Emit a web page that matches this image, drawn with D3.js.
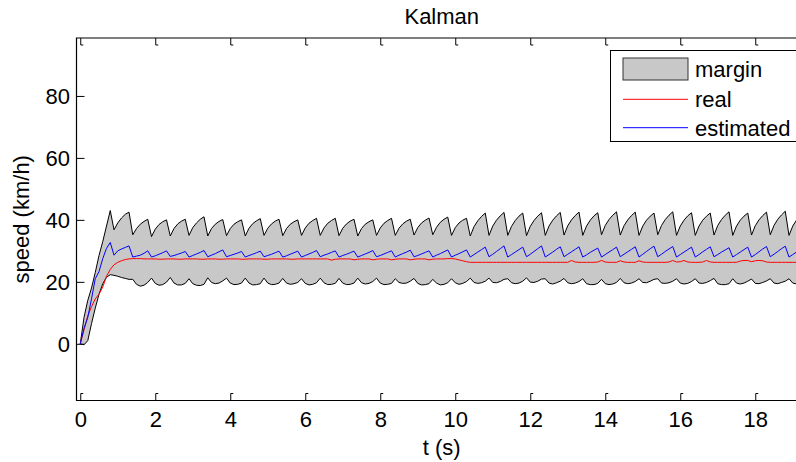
<!DOCTYPE html>
<html>
<head>
<meta charset="utf-8">
<script src="https://cdn.jsdelivr.net/npm/d3@7"></script>
<style>
  body { margin: 0; background: #fff; }
  svg { display: block; font-family: "Liberation Sans", Arial, sans-serif; }
</style>
</head>
<body>
<script>
// Samples every 0.1 s, from t = 0
const timeStep = 0.1;

// upper edge of the margin band (km/h)
const upperMargin = [
  0, 8.5, 14, 18, 23, 28.5, 33, 38, 43,
  36.8, 39, 40.6, 41.8, 42.5,
  35.2, 37.2, 38.6, 39.5, 40.2,
  34.6, 37.0, 38.5, 39.4, 40.0,
  34.8, 37.2, 38.7, 39.6, 40.2,
  35.0, 37.5, 39.0, 40.2, 41.0,
  34.8, 37.2, 38.6, 39.5, 40.1,
  34.9, 37.2, 38.6, 39.4, 40.0,
  34.8, 37.3, 38.8, 39.7, 40.4,
  35.0, 37.3, 38.7, 39.6, 40.2,
  34.9, 37.2, 38.6, 39.4, 40.0,
  35.0, 37.4, 38.9, 39.8, 40.5,
  35.0, 37.4, 38.9, 39.8, 40.5,
  34.9, 37.3, 38.7, 39.6, 40.2,
  34.8, 37.2, 38.6, 39.4, 40.0,
  35.0, 37.4, 38.9, 39.8, 40.5,
  35.0, 37.3, 38.7, 39.6, 40.2,
  35.1, 37.5, 39.0, 39.9, 40.6,
  35.2, 37.6, 39.2, 40.2, 40.9,
  35.0, 37.5, 39.0, 39.9, 40.5,
  34.8, 37.8, 39.7, 41.1, 42.2,
  35.0, 38.0, 39.9, 41.3, 42.4,
  35.0, 37.9, 39.8, 41.2, 42.2,
  34.9, 37.9, 39.8, 41.2, 42.3,
  35.0, 38.0, 39.9, 41.3, 42.4,
  35.1, 38.1, 40.0, 41.4, 42.5,
  35.0, 38.0, 39.9, 41.3, 42.3,
  35.2, 38.2, 40.1, 41.5, 42.6,
  35.1, 38.1, 40.0, 41.4, 42.5,
  35.0, 38.0, 39.9, 41.2, 42.2,
  35.2, 38.2, 40.1, 41.5, 42.6,
  35.0, 38.0, 39.9, 41.3, 42.3,
  35.0, 38.0, 39.9, 41.2, 42.2,
  35.1, 38.2, 40.1, 41.5, 42.6,
  35.0, 38.0, 39.9, 41.2, 42.2,
  35.1, 38.1, 40.0, 41.4, 42.5,
  35.2, 38.2, 40.2, 41.6, 42.8,
  35.0, 38.0, 39.9, 41.3
];

// lower edge of the margin band (km/h)
const lowerMargin = [
  0, -0.3, 1, 6.5, 11.5, 16, 19.4, 21.5, 22.3,
  22.1, 21.8, 21.4, 21.1, 20.8,
  20.8, 19.2, 18.6, 18.9, 19.8,
  21.2, 19.5, 18.9, 19.1, 19.9,
  21.4, 19.6, 19.0, 19.0, 19.5,
  21.0, 19.4, 18.9, 18.8, 19.2,
  21.3, 19.8, 19.4, 19.6, 20.3,
  21.2, 19.6, 19.1, 19.2, 19.6,
  21.2, 19.6, 19.0, 19.1, 19.4,
  21.2, 19.6, 19.1, 19.2, 19.6,
  21.1, 19.6, 19.2, 19.4, 19.8,
  21.0, 19.5, 19.0, 19.2, 19.7,
  21.2, 19.7, 19.1, 19.2, 19.5,
  21.1, 19.6, 19.1, 19.2, 19.6,
  21.2, 19.7, 19.3, 19.5, 20.1,
  21.2, 19.6, 19.1, 19.2, 19.5,
  21.0, 19.8, 19.5, 19.6, 20.2,
  21.1, 19.5, 19.0, 19.1, 19.4,
  20.8, 19.6, 19.0, 19.2, 19.7,
  21.0, 19.7, 19.2, 19.5, 20.1,
  21.2, 19.8, 19.5, 19.7, 20.2,
  21.2, 19.8, 19.7, 20.1, 20.8,
  21.0, 19.7, 19.4, 19.6, 20.2,
  21.3, 19.9, 19.8, 20.2, 20.9,
  21.0, 19.6, 19.3, 19.7, 20.2,
  21.1, 19.7, 19.4, 19.6, 20.1,
  21.0, 19.4, 19.1, 19.1, 19.5,
  20.8, 19.4, 19.1, 19.3, 19.8,
  21.1, 19.7, 19.4, 19.6, 20.1,
  21.0, 19.8, 19.7, 20.2, 20.8,
  21.0, 19.6, 19.5, 19.7, 20.2,
  21.0, 19.6, 19.3, 19.5, 20.1,
  21.0, 19.6, 19.5, 19.8, 20.4,
  21.1, 19.4, 19.1, 19.1, 19.4,
  21.0, 19.6, 19.3, 19.6, 20.2,
  20.9, 19.5, 19.4, 19.8, 20.3,
  21.0, 19.6, 19.4, 19.8, 20.2,
  21.0, 19.6, 19.3, 19.5
];

// real speed (km/h)
const realSpeed = [
  0, 4.5, 9, 12, 14.5, 16, 18.3, 21.8, 24, 25.5,
  26.3, 26.8, 27.2, 27.4, 27.5, 27.5, 27.5, 27.4, 27.4, 27.4,
  27.4, 27.3, 27.3, 27.4, 27.4, 27.4, 27.3, 27.3, 27.4, 27.4,
  27.4, 27.4, 27.3, 27.3, 27.4, 27.4, 27.4, 27.3, 27.3, 27.4,
  27.4, 27.4, 27.4, 27.3, 27.3, 27.4, 27.4, 27.4, 27.4, 27.3,
  27.3, 27.4, 27.4, 27.4, 27.4, 27.4, 27.3, 27.3, 27.4, 27.4,
  27.4, 27.4, 27.4, 27.4, 27.4, 27.4, 27.4, 27.0, 27.3, 27.4,
  27.4, 27.4, 27.4, 27.1, 27.3, 27.4, 27.4, 27.4, 27.1, 27.3,
  27.4, 27.4, 27.4, 27.1, 27.3, 27.4, 27.4, 27.4, 27.1, 27.3,
  27.4, 27.4, 27.4, 27.1, 27.3, 27.4, 27.4, 27.4, 27.5, 27.5,
  27.4, 27.1, 26.8, 26.5, 26.3, 26.3, 26.3, 26.3, 26.3, 26.3,
  26.3, 26.3, 26.3, 26.3, 26.3, 26.3, 26.3, 26.3, 26.3, 26.3,
  26.3, 26.3, 26.3, 26.3, 26.3, 26.3, 26.3, 26.3, 26.3, 26.3,
  26.3, 26.9, 26.4, 26.3, 26.3, 26.3, 26.3, 26.3, 26.4, 26.9,
  26.4, 26.3, 26.3, 26.3, 26.8, 26.4, 26.3, 26.3, 26.3, 26.8,
  26.4, 26.3, 26.3, 26.3, 26.3, 26.3, 26.3, 26.4, 26.9, 26.4,
  26.5, 26.9, 26.4, 26.3, 26.3, 26.3, 26.4, 26.9, 26.4, 26.3,
  26.3, 26.3, 26.3, 26.3, 26.3, 26.3, 26.7, 26.9, 26.9, 26.5,
  26.8, 26.9, 26.8, 26.4, 26.3, 26.3, 26.3, 26.3, 26.3, 26.3,
  26.3, 26.3, 26.3
];

// Kalman estimate (km/h)
const estimatedSpeed = [
  0, 5, 8.5, 14.5, 21, 23.3, 27.5, 30.8, 32.7,
  28.6, 30.0, 30.6, 31.1, 31.6,
  28.0, 28.3, 28.6, 29.2, 30.0,
  28.0, 28.4, 28.9, 29.4, 30.0,
  28.2, 28.5, 28.9, 29.3, 29.8,
  28.0, 28.5, 29.0, 29.5, 30.1,
  28.1, 28.6, 29.1, 29.7, 30.3,
  28.1, 28.5, 28.9, 29.3, 29.8,
  28.0, 28.5, 28.9, 29.4, 29.9,
  28.1, 28.5, 28.9, 29.4, 29.9,
  28.0, 28.4, 28.9, 29.4, 29.9,
  28.0, 28.5, 29.0, 29.5, 30.1,
  28.1, 28.6, 29.0, 29.5, 30.0,
  28.0, 28.5, 28.9, 29.4, 29.9,
  28.0, 28.5, 29.0, 29.5, 30.1,
  28.1, 28.5, 29.0, 29.5, 30.0,
  28.0, 28.6, 29.1, 29.6, 30.2,
  28.1, 28.5, 29.0, 29.5, 30.0,
  28.0, 28.6, 29.1, 29.7, 30.3,
  28.0, 28.6, 29.1, 29.7, 30.3,
  28.0, 28.8, 29.6, 30.4, 31.2,
  28.1, 28.9, 29.8, 30.7, 31.6,
  28.0, 28.8, 29.6, 30.4, 31.2,
  28.1, 28.9, 29.8, 30.7, 31.6,
  28.0, 28.8, 29.6, 30.5, 31.3,
  28.1, 28.9, 29.7, 30.5, 31.3,
  28.0, 28.7, 29.5, 30.2, 30.9,
  28.0, 28.8, 29.6, 30.4, 31.2,
  28.1, 28.9, 29.7, 30.5, 31.3,
  28.0, 28.9, 29.8, 30.7, 31.5,
  28.1, 28.9, 29.8, 30.6, 31.4,
  28.0, 28.8, 29.6, 30.4, 31.2,
  28.0, 28.8, 29.7, 30.5, 31.3,
  28.1, 28.8, 29.6, 30.3, 31.0,
  28.0, 28.8, 29.6, 30.4, 31.2,
  28.0, 28.8, 29.7, 30.6, 31.4,
  28.1, 28.9, 29.8, 30.7, 31.5,
  28.0, 28.8, 29.6, 30.4
];

const xTicks = [0, 2, 4, 6, 8, 10, 12, 14, 16, 18];
const yTicks = [0, 20, 40, 60, 80];
const legendLabels = ["margin", "real", "estimated"];

const width = 796;
const height = 462;
const fontSize = 22;
const box = { left: 76.5, top: 38, right: 807, bottom: 400.5 };
const bandColor = "#c8c8c8";

const rows = realSpeed.map((r, i) => ({
    t: i * timeStep,
    upper: upperMargin[i],
    lower: lowerMargin[i],
    real: r,
    est: estimatedSpeed[i]
}));

const svg = d3.select("body")
    .append("svg")
    .attr("width", width)
    .attr("height", height)
    .style("font-size", fontSize + "px");

const x = d3.scaleLinear().domain([-0.1, 19.38]).range([box.left, box.right]);
const y = d3.scaleLinear().domain([-18.3, 98.7]).range([box.bottom, box.top]);

svg.append("clipPath").attr("id", "plot-clip")
    .append("rect")
    .attr("x", box.left).attr("y", box.top)
    .attr("width", box.right - box.left).attr("height", box.bottom - box.top);

const plot = svg.append("g").attr("clip-path", "url(#plot-clip)");

// shaded margin
plot.append("path")
    .datum(rows)
    .attr("fill", bandColor)
    .attr("d", d3.area().x(d => x(d.t)).y0(d => y(d.lower)).y1(d => y(d.upper)));

const line = key => d3.line().x(d => x(d.t)).y(d => y(d[key]));

plot.append("path").datum(rows).attr("fill", "none").attr("stroke", "#000").attr("stroke-width", 1).attr("d", line("upper"));
plot.append("path").datum(rows).attr("fill", "none").attr("stroke", "#000").attr("stroke-width", 1).attr("d", line("lower"));
plot.append("path").datum(rows).attr("fill", "none").attr("stroke", "#ff0000").attr("stroke-width", 1).attr("d", line("real"));
plot.append("path").datum(rows).attr("fill", "none").attr("stroke", "#0000ff").attr("stroke-width", 1).attr("d", line("est"));

// axes, ticks pointing inward like matlab
const bottomAxis = svg.append("g")
    .attr("transform", `translate(0,${box.bottom})`)
    .call(d3.axisBottom(x).tickValues(xTicks).tickSizeInner(-7).tickSizeOuter(0).tickFormat(d3.format("d")));
bottomAxis.selectAll("text").attr("y", 26.5).attr("dy", null);

const topAxis = svg.append("g")
    .attr("transform", `translate(0,${box.top})`)
    .call(d3.axisTop(x).tickValues(xTicks).tickSizeInner(-7).tickSizeOuter(0).tickFormat(""));

const leftAxis = svg.append("g")
    .attr("transform", `translate(${box.left},0)`)
    .call(d3.axisLeft(y).tickValues(yTicks).tickSizeInner(-8).tickSizeOuter(0).tickPadding(6.5));
leftAxis.selectAll("text").attr("dy", "0.36em");

// little hooks at the end of the x ticks
bottomAxis.selectAll(".tick").append("path").attr("d", "M0,-7h2.5").attr("stroke", "#000");
topAxis.selectAll(".tick").append("path").attr("d", "M0,7h2.5").attr("stroke", "#000");

[bottomAxis, topAxis, leftAxis].forEach(g => {
    g.select(".domain").remove();
    g.selectAll(".tick line").attr("stroke", "#000");
    g.selectAll("text").attr("font-size", fontSize).attr("font-family", null).attr("fill", "#000");
});

// box edges
svg.append("path")
    .attr("d", `M${box.right},${box.top}H${box.left}V${box.bottom}H${box.right}`)
    .attr("fill", "none")
    .attr("stroke", "#000")
    .attr("stroke-width", 1.2);

// titles
const midX = (box.left + box.right) / 2;
svg.append("text").attr("x", midX).attr("y", 24).attr("text-anchor", "middle").text("Kalman");
svg.append("text").attr("x", midX).attr("y", 455).attr("text-anchor", "middle").text("t (s)");
svg.append("text")
    .attr("transform", `translate(29,${(box.top + box.bottom) / 2}) rotate(-90)`)
    .attr("text-anchor", "middle")
    .text("speed (km/h)");

// legend
const legend = svg.append("g");
legend.append("rect")
    .attr("x", 610.5).attr("y", 50.5).attr("width", 200).attr("height", 91)
    .attr("fill", "#fff").attr("stroke", "#000").attr("stroke-width", 1);
legend.append("rect")
    .attr("x", 623).attr("y", 58).attr("width", 65).attr("height", 22)
    .attr("fill", bandColor).attr("stroke", "#333").attr("stroke-width", 1);
legend.append("line").attr("x1", 623).attr("x2", 688).attr("y1", 99.3).attr("y2", 99.3).attr("stroke", "#ff0000");
legend.append("line").attr("x1", 623).attr("x2", 688).attr("y1", 127.7).attr("y2", 127.7).attr("stroke", "#0000ff");
legend.selectAll("text.lbl")
    .data(legendLabels)
    .join("text")
    .attr("class", "lbl")
    .attr("x", 695)
    .attr("y", (d, i) => [76.5, 107, 135.5][i])
    .text(d => d);
</script>
</body>
</html>
